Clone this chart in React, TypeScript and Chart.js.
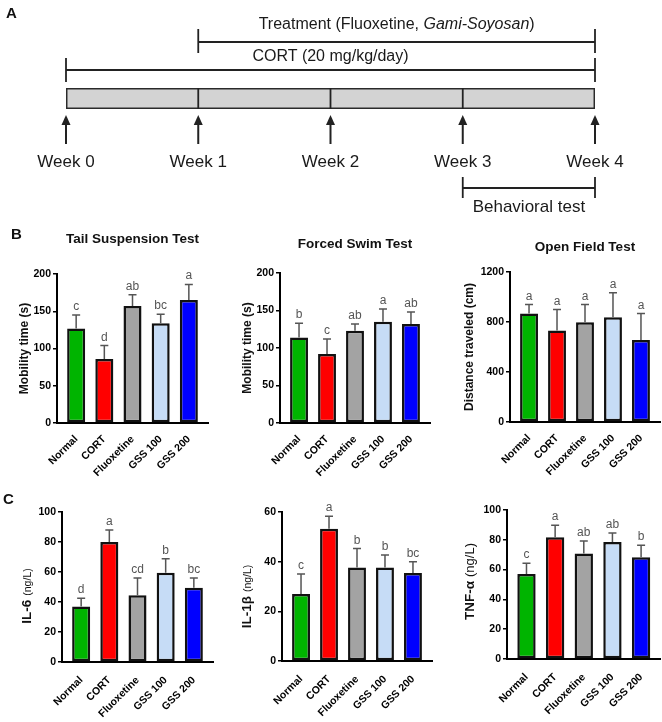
import React, { useEffect, useRef } from 'react';
import { Chart, registerables } from 'chart.js';

Chart.register(...registerables);

const FONT = 'Arial, "Liberation Sans", Helvetica, sans-serif';

// ---------------- Panel A (timeline) data ----------------
const weeks = [0, 1, 2, 3, 4];
const weekLabels = ['Week 0', 'Week 1', 'Week 2', 'Week 3', 'Week 4'];
const cortPeriod = [0, 4];
const treatmentPeriod = [1, 4];
const behaviorPeriod = [3, 4];
const cortLabel = 'CORT (20 mg/kg/day)';
const treatmentLabel = ['Treatment (Fluoxetine, ', 'Gami-Soyosan', ')'];
const behaviorLabel = 'Behavioral test';

// ---------------- Panels B / C data ----------------
const categories = ['Normal', 'CORT', 'Fluoxetine', 'GSS 100', 'GSS 200'];
const barColors = ['#00B400', '#FF0000', '#A3A3A3', '#C6DCF6', '#0000FF'];

const tstMeans = [127, 86, 157, 134, 165];
const tstErrors = [18, 18, 15, 12, 21];
const tstLetters = ['c', 'd', 'ab', 'bc', 'a'];
const tstTicks = [0, 50, 100, 150, 200];

const fstMeans = [114, 92, 123, 135, 132];
const fstErrors = [19, 20, 9, 17, 16];
const fstLetters = ['b', 'c', 'ab', 'a', 'ab'];
const fstTicks = [0, 50, 100, 150, 200];

const oftMeans = [868, 733, 799, 839, 656];
const oftErrors = [72, 167, 141, 196, 212];
const oftLetters = ['a', 'a', 'a', 'a', 'a'];
const oftTicks = [0, 400, 800, 1200];

const il6Means = [37, 80, 44.5, 59.5, 49.5];
const il6Errors = [5.5, 8, 11.5, 9.3, 6.5];
const il6Letters = ['d', 'a', 'cd', 'b', 'bc'];
const il6Ticks = [0, 20, 40, 60, 80, 100];

const il1bMeans = [27, 53.3, 37.7, 37.7, 35.4];
const il1bErrors = [8, 5, 7.6, 5, 4.6];
const il1bLetters = ['c', 'a', 'b', 'b', 'bc'];
const il1bTicks = [0, 20, 40, 60];

const tnfMeans = [57, 81.7, 70.8, 78.6, 68.3];
const tnfErrors = [7.3, 8, 8.4, 6, 8];
const tnfLetters = ['c', 'a', 'ab', 'ab', 'b'];
const tnfTicks = [0, 20, 40, 60, 80, 100];

// ---------------- Timeline chart ----------------
const timelinePlugin = {
  id: 'timelineDecor',
  afterDatasetsDraw(chart: any) {
    const { ctx, chartArea } = chart;
    const x = chart.scales.x;
    const px = (w: number) => x.getPixelForValue(w);
    ctx.save();
    ctx.strokeStyle = '#222';
    ctx.fillStyle = '#222';
    ctx.lineWidth = 1.8;
    const line = (x1: number, y1: number, x2: number, y2: number) => {
      ctx.beginPath();
      ctx.moveTo(x1, y1);
      ctx.lineTo(x2, y2);
      ctx.stroke();
    };
    // dividers inside the bar
    weeks.slice(1, -1).forEach((w) => line(px(w), chartArea.top, px(w), chartArea.bottom));
    // brackets
    const bracket = (p: number[], y: number, t1: number, t2: number) => {
      line(px(p[0]), y, px(p[1]), y);
      line(px(p[0]), t1, px(p[0]), t2);
      line(px(p[1]), t1, px(p[1]), t2);
    };
    bracket(treatmentPeriod, 42, 29, 53);
    bracket(cortPeriod, 70, 58, 82);
    bracket(behaviorPeriod, 188, 177, 198);
    // arrows
    ctx.lineWidth = 2;
    weeks.forEach((w) => {
      const cx = px(w);
      line(cx, 144, cx, 123);
      ctx.beginPath();
      ctx.moveTo(cx, 115);
      ctx.lineTo(cx - 4.5, 125);
      ctx.lineTo(cx + 4.5, 125);
      ctx.closePath();
      ctx.fill();
    });
    // texts
    ctx.fillStyle = '#1a1a1a';
    ctx.textBaseline = 'middle';
    ctx.textAlign = 'center';
    ctx.font = `17px ${FONT}`;
    weeks.forEach((w, i) => ctx.fillText(weekLabels[i], px(w), 162));
    ctx.fillText(behaviorLabel, (px(behaviorPeriod[0]) + px(behaviorPeriod[1])) / 2, 207);
    ctx.font = `16px ${FONT}`;
    ctx.fillText(cortLabel, (px(cortPeriod[0]) + px(cortPeriod[1])) / 2, 57);
    // treatment label with italic part
    const fonts = [`16px ${FONT}`, `italic 16px ${FONT}`, `16px ${FONT}`];
    const widths = treatmentLabel.map((t, i) => {
      ctx.font = fonts[i];
      return ctx.measureText(t).width;
    });
    const total = widths.reduce((a, b) => a + b, 0);
    let sx = (px(treatmentPeriod[0]) + px(treatmentPeriod[1])) / 2 - total / 2;
    ctx.textAlign = 'left';
    treatmentLabel.forEach((t, i) => {
      ctx.font = fonts[i];
      ctx.fillText(t, sx, 25);
      sx += widths[i];
    });
    ctx.restore();
  },
};

function timelineConfig(): any {
  return {
    type: 'bar',
    data: {
      labels: ['Experiment'],
      datasets: [
        {
          data: [[weeks[0], weeks[weeks.length - 1]]],
          backgroundColor: '#D3D3D3',
          borderColor: '#2a2a2a',
          borderWidth: 1.8,
          borderSkipped: false,
          barPercentage: 1,
          categoryPercentage: 1,
        },
      ],
    },
    options: {
      indexAxis: 'y',
      responsive: false,
      animation: false,
      devicePixelRatio: 1,
      layout: { padding: { left: 66, right: 67, top: 88, bottom: 113 } },
      scales: {
        x: { type: 'linear', display: false, min: weeks[0], max: weeks[weeks.length - 1] },
        y: { display: false },
      },
      plugins: { legend: { display: false }, tooltip: { enabled: false } },
    },
    plugins: [timelinePlugin],
  };
}

// ---------------- Bar charts ----------------
interface Spec {
  title?: string;
  titleY?: number;
  means: number[];
  errors: number[];
  letters: string[];
  ticks: number[];
  yTitle: string;
  yUnit?: string;
  yTitleX: number;
  yTitleDy: number;
  yTitleSize: number;
  yUnitSize?: number;
  left: number;
  top: number;
  width: number;
  height: number;
  yW: number;
  padR: number;
  padTop: number;
  xH: number;
  xPad: number;
}

function makeDecor(s: Spec) {
  return {
    id: 'barDecor',
    afterDatasetsDraw(chart: any) {
      const { ctx, chartArea } = chart;
      const yScale = chart.scales.y;
      const meta = chart.getDatasetMeta(0);
      ctx.save();
      // error bars + letters
      meta.data.forEach((bar: any, i: number) => {
        const x = bar.x;
        const top = bar.y;
        const ye = yScale.getPixelForValue(s.means[i] + s.errors[i]);
        ctx.strokeStyle = '#555';
        ctx.lineWidth = 1.5;
        ctx.beginPath();
        ctx.moveTo(x, top);
        ctx.lineTo(x, ye);
        ctx.moveTo(x - 4, ye);
        ctx.lineTo(x + 4, ye);
        ctx.stroke();
        ctx.fillStyle = '#555';
        ctx.font = `12px ${FONT}`;
        ctx.textAlign = 'center';
        ctx.textBaseline = 'alphabetic';
        ctx.fillText(s.letters[i], x, ye - 5);
      });
      // title
      if (s.title) {
        ctx.fillStyle = '#111';
        ctx.font = `bold 13.5px ${FONT}`;
        ctx.textAlign = 'center';
        ctx.textBaseline = 'middle';
        ctx.fillText(s.title, (chartArea.left + chartArea.right) / 2, s.titleY);
      }
      // y title (rotated)
      const cy = (chartArea.top + chartArea.bottom) / 2 + s.yTitleDy;
      ctx.translate(s.yTitleX, cy);
      ctx.rotate(-Math.PI / 2);
      ctx.fillStyle = '#111';
      ctx.textBaseline = 'middle';
      ctx.textAlign = 'left';
      const mainFont = `bold ${s.yTitleSize}px ${FONT}`;
      const unitFont = `${s.yUnitSize || 11}px ${FONT}`;
      ctx.font = mainFont;
      const wm = ctx.measureText(s.yTitle).width;
      let wu = 0;
      const gap = s.yUnit ? 4 : 0;
      if (s.yUnit) {
        ctx.font = unitFont;
        wu = ctx.measureText(s.yUnit).width;
      }
      const start = -(wm + gap + wu) / 2;
      ctx.font = mainFont;
      ctx.fillText(s.yTitle, start, 0);
      if (s.yUnit) {
        ctx.font = unitFont;
        const shift = (s.yTitleSize - (s.yUnitSize || 11)) * 0.3;
        ctx.fillText(s.yUnit, start + wm + gap, shift);
      }
      ctx.restore();
    },
  };
}

function barConfig(s: Spec): any {
  const yMax = s.ticks[s.ticks.length - 1];
  const bold = { family: FONT, size: 10.5, weight: 'bold' as const };
  return {
    type: 'bar',
    data: {
      datasets: [
        {
          data: s.means.map((v, i) => ({ x: i, y: v })),
          backgroundColor: barColors,
          borderColor: '#111',
          borderWidth: 2.5,
          borderSkipped: false,
          barPercentage: 0.64,
          categoryPercentage: 1,
        },
      ],
    },
    options: {
      responsive: false,
      animation: false,
      devicePixelRatio: 1,
      layout: { padding: { left: 0, right: s.padR, top: s.padTop, bottom: 0 } },
      scales: {
        x: {
          type: 'linear',
          min: -0.68,
          max: categories.length - 1 + 0.68,
          offset: false,
          afterBuildTicks: (sc: any) => {
            sc.ticks = categories.map((_, i) => ({ value: i }));
          },
          afterFit: (sc: any) => {
            sc.height = s.xH;
          },
          grid: { display: false, drawTicks: false, offset: false },
          border: { display: true, color: '#000', width: 2 },
          ticks: {
            autoSkip: false,
            minRotation: 45,
            maxRotation: 45,
            padding: s.xPad,
            color: '#000',
            font: bold,
            callback: (v: number) => categories[v] ?? '',
          },
        },
        y: {
          type: 'linear',
          min: 0,
          max: yMax,
          afterBuildTicks: (sc: any) => {
            sc.ticks = s.ticks.map((v) => ({ value: v }));
          },
          afterFit: (sc: any) => {
            sc.width = s.yW;
          },
          grid: { display: true, drawOnChartArea: false, drawTicks: true, tickLength: 4, color: '#000', lineWidth: 1.5 },
          border: { display: true, color: '#000', width: 2 },
          ticks: { padding: 2, color: '#000', font: bold, callback: (v: number) => String(v) },
        },
      },
      plugins: { legend: { display: false }, tooltip: { enabled: false }, title: { display: false } },
    },
    plugins: [makeDecor(s)],
  };
}

const ROW_B = { top: 215, height: 265 };
const ROW_C = { top: 480, height: 242 };
const COLS = [
  { left: 0, width: 220 },
  { left: 220, width: 220 },
  { left: 440, width: 222 },
];

const specs: Spec[] = [
  {
    title: 'Tail Suspension Test', titleY: 24,
    means: tstMeans, errors: tstErrors, letters: tstLetters, ticks: tstTicks,
    yTitle: 'Mobility time (s)', yTitleX: 25, yTitleDy: 0, yTitleSize: 12,
    ...COLS[0], ...ROW_B, yW: 57, padR: 12, padTop: 59, xH: 57, xPad: 10,
  },
  {
    title: 'Forced Swim Test', titleY: 29,
    means: fstMeans, errors: fstErrors, letters: fstLetters, ticks: fstTicks,
    yTitle: 'Mobility time (s)', yTitleX: 28, yTitleDy: 0, yTitleSize: 12,
    ...COLS[1], ...ROW_B, yW: 60, padR: 10, padTop: 58, xH: 57, xPad: 10,
  },
  {
    title: 'Open Field Test', titleY: 32,
    means: oftMeans, errors: oftErrors, letters: oftLetters, ticks: oftTicks,
    yTitle: 'Distance traveled (cm)', yTitleX: 30, yTitleDy: 0, yTitleSize: 12,
    ...COLS[2], ...ROW_B, yW: 70, padR: 2, padTop: 57, xH: 58, xPad: 10,
  },
  {
    means: il6Means, errors: il6Errors, letters: il6Letters, ticks: il6Ticks,
    yTitle: 'IL-6', yUnit: '(ng/L)', yTitleX: 27, yTitleDy: 9, yTitleSize: 13.5, yUnitSize: 10.5,
    ...COLS[0], ...ROW_C, yW: 62, padR: 7, padTop: 32, xH: 60, xPad: 12,
  },
  {
    means: il1bMeans, errors: il1bErrors, letters: il1bLetters, ticks: il1bTicks,
    yTitle: 'IL-1β', yUnit: '(ng/L)', yTitleX: 27, yTitleDy: 10, yTitleSize: 13.5, yUnitSize: 10.5,
    ...COLS[1], ...ROW_C, yW: 62, padR: 8, padTop: 32, xH: 61, xPad: 12,
  },
  {
    means: tnfMeans, errors: tnfErrors, letters: tnfLetters, ticks: tnfTicks,
    yTitle: 'TNF-α', yUnit: '(ng/L)', yTitleX: 30, yTitleDy: -3, yTitleSize: 13.5, yUnitSize: 13,
    ...COLS[2], ...ROW_C, yW: 67, padR: 0, padTop: 30, xH: 63, xPad: 12,
  },
];

function ChartCanvas({ make, left, top, width, height }: { make: () => any; left: number; top: number; width: number; height: number }) {
  const ref = useRef<HTMLCanvasElement>(null);
  useEffect(() => {
    const chart = new Chart(ref.current as HTMLCanvasElement, make());
    return () => chart.destroy();
  }, []);
  return (
    <canvas
      ref={ref}
      width={width}
      height={height}
      style={{ position: 'absolute', left, top, width, height }}
    />
  );
}

const letterStyle = (left: number, top: number): React.CSSProperties => ({
  position: 'absolute',
  left,
  top,
  font: `bold 15px ${FONT}`,
  lineHeight: '15px',
  color: '#111',
});

export default function App() {
  return (
    <div style={{ position: 'absolute', left: 0, top: 0, width: 662, height: 722, background: '#fff', overflow: 'hidden' }}>
      <ChartCanvas make={timelineConfig} left={0} top={0} width={662} height={222} />
      {specs.map((s, i) => (
        <ChartCanvas key={i} make={() => barConfig(s)} left={s.left} top={s.top} width={s.width} height={s.height} />
      ))}
      <div style={letterStyle(6, 5)}>A</div>
      <div style={letterStyle(11, 226)}>B</div>
      <div style={letterStyle(3, 491)}>C</div>
    </div>
  );
}
